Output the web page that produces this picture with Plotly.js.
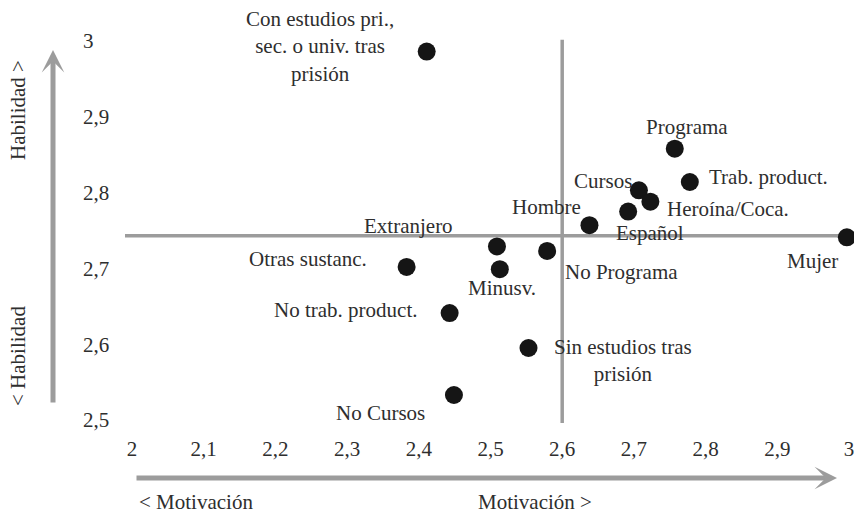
<!DOCTYPE html>
<html>
<head>
<meta charset="utf-8">
<script src="https://cdn.plot.ly/plotly-3.0.1.min.js"></script>
<style>
  html, body { margin: 0; padding: 0; background: #ffffff; }
  #chart { width: 854px; height: 514px; }
</style>
</head>
<body>
<div id="chart"></div>
<script>
// ---- Data ----
const categorias = [
  "Con estudios pri.,<br>sec. o univ. tras<br>prisión",
  "Programa",
  "Trab. product.",
  "Cursos",
  "Heroína/Coca.",
  "Español",
  "Hombre",
  "Mujer",
  "Extranjero",
  "No Programa",
  "Otras sustanc.",
  "Minusv.",
  "No trab. product.",
  "Sin estudios tras<br>prisión",
  "No Cursos"
];
const motivacion = [2.411, 2.757, 2.778, 2.707, 2.723, 2.692, 2.638, 2.997, 2.509, 2.579, 2.383, 2.513, 2.443, 2.553, 2.449];
const habilidad  = [2.986, 2.858, 2.814, 2.803, 2.788, 2.775, 2.757, 2.741, 2.729, 2.723, 2.702, 2.699, 2.641, 2.595, 2.533];

const refMotivacion = 2.6;    // vertical reference line
const refHabilidad  = 2.743;  // horizontal reference line

const xTicks = [2, 2.1, 2.2, 2.3, 2.4, 2.5, 2.6, 2.7, 2.8, 2.9, 3];
const yTicks = [2.5, 2.6, 2.7, 2.8, 2.9, 3];

const ejeX = { bajo: "< Motivación", alto: "Motivación >" };
const ejeY = { bajo: "< Habilidad", alto: "Habilidad >" };

// ---- Layout helpers (positions, not data) ----
const W = 854, H = 514;
const M = { l: 132, r: 5, t: 41, b: 94 };
const PW = W - M.l - M.r, PH = H - M.t - M.b;
const px2x = p => (p - M.l) / PW;           // pixel -> paper x
const px2y = p => (H - M.b - p) / PH;        // pixel -> paper y

// label offsets in pixels (dx right, dy up) relative to each dot
const labelShift = [
  [-107, 5], [12, 22], [79, 5], [-36, 9], [78, -7], [22, -21], [-43, 18],
  [-34, -24], [-88, 20], [74, -21], [-99, 8], [2, -19], [-104, 3], [94, -13], [-73, -18]
];

const FONT = "Liberation Serif, Times New Roman, serif";
const FS = 21;
const TXT = "#2e2e2e";
const GREY = "#9c9c9c";

const trace = {
  type: "scatter",
  mode: "markers",
  x: motivacion,
  y: habilidad,
  text: categorias,
  marker: { size: 18, color: "#151515" },
  cliponaxis: false,
  hoverinfo: "text+x+y"
};

const annotations = categorias.map((t, i) => ({
  x: motivacion[i], y: habilidad[i], xref: "x", yref: "y",
  text: t, showarrow: false,
  xanchor: "center", yanchor: "middle", align: "center",
  xshift: labelShift[i][0], yshift: labelShift[i][1],
  font: { family: FONT, size: FS, color: TXT }
}));

// arrows
annotations.push({
  xref: "paper", yref: "paper", x: px2x(53), y: px2y(50),
  ax: 0, ay: 354, text: "", showarrow: true,
  arrowhead: 3, arrowsize: 0.75, arrowwidth: 5, arrowcolor: GREY
});
annotations.push({
  xref: "paper", yref: "paper", x: px2x(837), y: px2y(478),
  ax: -702, ay: 0, text: "", showarrow: true,
  arrowhead: 3, arrowsize: 0.75, arrowwidth: 5, arrowcolor: GREY
});

// axis end titles
const titleFont = { family: FONT, size: FS, color: TXT };
annotations.push({ xref: "paper", yref: "paper", x: px2x(18), y: px2y(110), text: ejeY.alto,
  textangle: -90, showarrow: false, xanchor: "center", yanchor: "middle", font: titleFont });
annotations.push({ xref: "paper", yref: "paper", x: px2x(18), y: px2y(356), text: ejeY.bajo,
  textangle: -90, showarrow: false, xanchor: "center", yanchor: "middle", font: titleFont });
annotations.push({ xref: "paper", yref: "paper", x: px2x(196), y: px2y(502), text: ejeX.bajo,
  showarrow: false, xanchor: "center", yanchor: "middle", font: titleFont });
annotations.push({ xref: "paper", yref: "paper", x: px2x(535), y: px2y(502), text: ejeX.alto,
  showarrow: false, xanchor: "center", yanchor: "middle", font: titleFont });

const shapes = [
  { type: "line", xref: "x", yref: "paper", x0: refMotivacion, x1: refMotivacion,
    y0: -0.008, y1: 1.003, line: { color: GREY, width: 3.5 }, layer: "below" },
  { type: "line", xref: "paper", yref: "paper", x0: px2x(125), x1: 1.002,
    y0: (refHabilidad - 2.5) / 0.5, y1: (refHabilidad - 2.5) / 0.5,
    line: { color: GREY, width: 3.5 }, layer: "below" }
];

const layout = {
  width: W, height: H,
  margin: M,
  paper_bgcolor: "#ffffff",
  plot_bgcolor: "#ffffff",
  showlegend: false,
  separators: ",.",
  font: { family: FONT, size: FS, color: TXT },
  xaxis: {
    range: [2, 3], tickvals: xTicks, showgrid: false, zeroline: false, showline: false,
    ticks: "", ticklabelstandoff: 14, ticklabeloverflow: "allow",
    tickfont: { family: FONT, size: FS, color: TXT }, fixedrange: true
  },
  yaxis: {
    range: [2.5, 3], tickvals: yTicks, showgrid: false, zeroline: false, showline: false,
    ticks: "", ticklabelposition: "inside", ticklabelstandoff: -52, ticklabeloverflow: "allow",
    tickfont: { family: FONT, size: FS, color: TXT }, fixedrange: true
  },
  shapes: shapes,
  annotations: annotations
};

Plotly.newPlot("chart", [trace], layout, { displayModeBar: false, staticPlot: true });
</script>
</body>
</html>
